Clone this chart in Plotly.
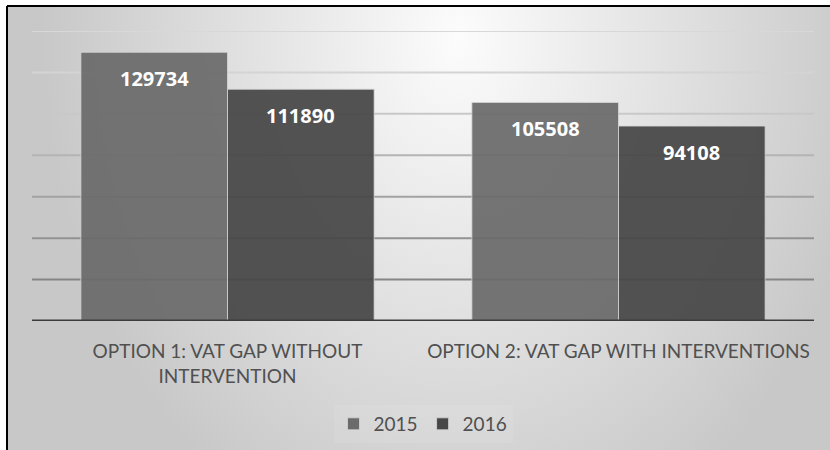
import base64
import plotly.graph_objects as go

# --- data -------------------------------------------------------------
categories = ["OPTION 1: VAT GAP WITHOUT<br>INTERVENTION",
              "OPTION 2: VAT GAP WITH INTERVENTIONS"]
years = ["2015", "2016"]
values_2015 = [129734, 105508]
values_2016 = [111890, 94108]
y_ticks = [0, 20000, 40000, 60000, 80000, 100000, 120000, 140000]

# --- geometry ---------------------------------------------------------
W, H = 830, 450
ML, MR, MT, MB = 32, 16, 31, 129
PW, PH = W - ML - MR, H - MT - MB


def px_x(px):
    return (px - ML) / PW


def px_y(py):
    return (H - MB - py) / PH


# soft radial background drawn as an svg image
svg = f"""<svg xmlns='http://www.w3.org/2000/svg' width='{W}' height='{H}'>
<defs><radialGradient id='g' gradientUnits='userSpaceOnUse' cx='0' cy='0' r='420'
 gradientTransform='translate(455,30) scale(1,1.3)'>
<stop offset='0' stop-color='#fcfcfc'/><stop offset='1' stop-color='#c8c8c8'/>
</radialGradient></defs>
<rect width='{W}' height='{H}' fill='url(#g)'/></svg>"""
bg_src = "data:image/svg+xml;base64," + base64.b64encode(svg.encode()).decode()

colors = {"2015": "#6b6b6b", "2016": "#474747"}
series = {"2015": values_2015, "2016": values_2016}

fig = go.Figure()
for yr in years:
    fig.add_trace(go.Bar(
        name=yr, x=categories, y=series[yr],
        marker=dict(color=colors[yr], opacity=0.93,
                    line=dict(color="rgba(215,215,215,0.8)", width=1)),
        hoverinfo="skip",
    ))

# gridlines, darkening toward the baseline
grid_cols = ["#3c3c3c", "#858585", "#929292", "#a2a2a2", "#b4b4b4",
             "#c8c8c8", "#d4d4d4", "#d8d8d8"]
shapes = []
for v, c in zip(y_ticks, grid_cols):
    if v == 0:
        continue
    shapes.append(dict(type="line", xref="paper", yref="y", x0=0, x1=1,
                       y0=v, y1=v, layer="below",
                       line=dict(color=c, width=2)))
# baseline
shapes.append(dict(type="line", xref="paper", yref="y", x0=0, x1=1,
                   y0=0, y1=0, layer="above",
                   line=dict(color="#3c3c3c", width=3)))
# frame edges (top and left)
shapes.append(dict(type="line", xref="paper", yref="paper",
                   x0=px_x(7), x1=px_x(W + 5), y0=px_y(6), y1=px_y(6),
                   line=dict(color="#000000", width=2)))
shapes.append(dict(type="line", xref="paper", yref="paper",
                   x0=px_x(7), x1=px_x(7), y0=px_y(6), y1=px_y(H + 5),
                   line=dict(color="#000000", width=2)))

# value labels inside each bar, near the top
bar_w = PW / 2 * 0.75 / 2
annotations = []
for i, yr in enumerate(years):
    for cat, v in zip(categories, series[yr]):
        annotations.append(dict(
            x=cat, y=v, xref="x", yref="y", text=str(v), showarrow=False,
            xshift=(i - 0.5) * bar_w, yshift=-26,
            font=dict(family="Open Sans", size=20, color="#ffffff",
                      weight="bold"),
        ))

fig.update_layout(
    width=W, height=H,
    margin=dict(l=ML, r=MR, t=MT, b=MB, autoexpand=False),
    paper_bgcolor="#ffffff", plot_bgcolor="rgba(0,0,0,0)",
    barmode="group", bargap=0.25, bargroupgap=0,
    images=[dict(source=bg_src, xref="paper", yref="paper",
                 x=px_x(8), y=px_y(7), sizex=(W - 8) / PW,
                 sizey=(H - 7) / PH, xanchor="left", yanchor="top",
                 sizing="stretch", layer="below")],
    shapes=shapes,
    annotations=annotations,
    showlegend=True,
    legend=dict(orientation="h", x=0.5, xanchor="center",
                y=px_y(424), yanchor="middle",
                bgcolor="rgba(255,255,255,0.08)",
                font=dict(family="Lato", size=19, color="#505050"),
                itemwidth=30, tracegroupgap=0),
    xaxis=dict(showgrid=False, showline=False, ticks="", automargin=False,
               tickfont=dict(family="Lato", size=19, color="#505050"),
               ticklabelstandoff=17),
    yaxis=dict(range=[0, 140000], tickvals=y_ticks, showgrid=False,
               showticklabels=False, zeroline=False, showline=False,
               automargin=False),
)

fig.write_html("out.html")
